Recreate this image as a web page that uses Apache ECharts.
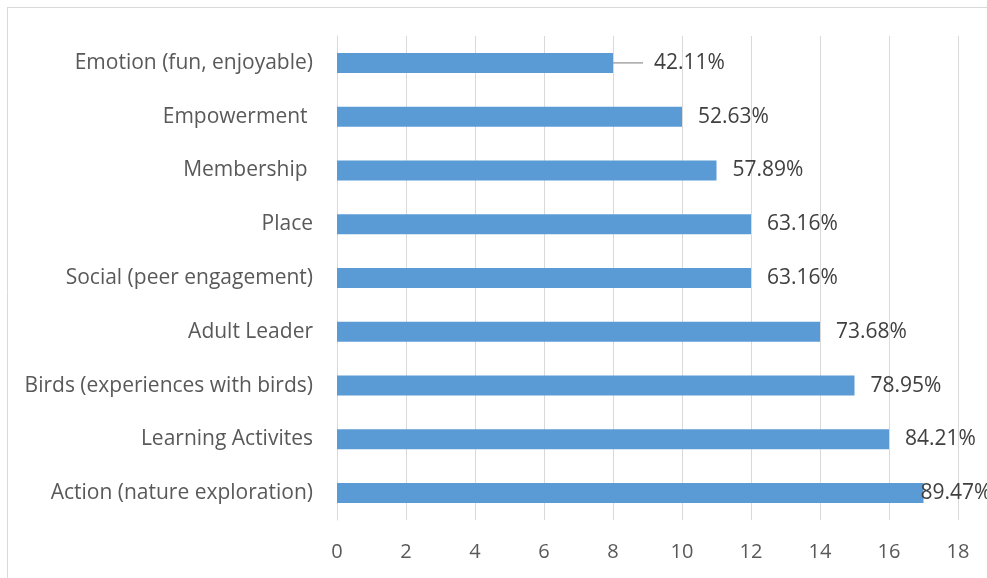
<!DOCTYPE html>
<html>
<head>
<meta charset="utf-8">
<script src="https://cdn.jsdelivr.net/npm/echarts@6/dist/echarts.min.js"></script>
<style>html,body{margin:0;padding:0;background:#fff}#c{width:987px;height:578px}</style>
</head>
<body>
<div id="c"></div>
<script>
const categories = ["Emotion (fun, enjoyable)", "Empowerment ", "Membership ", "Place", "Social (peer engagement)", "Adult Leader", "Birds (experiences with birds)", "Learning Activites", "Action (nature exploration)"];
const counts = [8, 10, 11, 12, 12, 14, 15, 16, 17];
const percentLabels = ["42.11%", "52.63%", "57.89%", "63.16%", "63.16%", "73.68%", "78.95%", "84.21%", "89.47%"];
const xTicks = [0, 2, 4, 6, 8, 10, 12, 14, 16, 18];

const FONT = "Open Sans";
const chart = echarts.init(document.getElementById('c'), null, {renderer: 'canvas'});
chart.setOption({
  animation: false,
  backgroundColor: '#fff',
  graphic: [
    {type: 'line', shape: {x1: 7.5, y1: 7, x2: 7.5, y2: 578}, style: {stroke: '#D9D9D9', lineWidth: 1}},
    {type: 'line', shape: {x1: 7, y1: 7.5, x2: 987, y2: 7.5}, style: {stroke: '#D9D9D9', lineWidth: 1}}
  ],
  grid: {left: 337, right: 29, top: 36, bottom: 58, containLabel: false},
  xAxis: {
    type: 'value', min: xTicks[0], max: xTicks[xTicks.length - 1], interval: 2,
    axisLine: {show: false}, axisTick: {show: false},
    splitLine: {show: true, lineStyle: {color: '#D9D9D9', width: 1}},
    axisLabel: {color: '#595959', fontSize: 20, fontFamily: FONT, margin: 22}
  },
  yAxis: {
    type: 'category', data: categories, inverse: true,
    axisLine: {show: true, lineStyle: {color: '#D9D9D9', width: 1}},
    axisTick: {show: false},
    axisLabel: {color: '#595959', fontSize: 21, fontFamily: FONT, margin: 24}
  },
  series: [{
    type: 'bar',
    data: counts.map((v, i) => i === 0 ? {value: v, labelLine: {show: true}} : v),
    barWidth: 20,
    itemStyle: {color: '#5B9BD5'},
    label: {
      show: true, position: 'right', distance: 16,
      color: '#404040', fontSize: 21, fontFamily: FONT,
      formatter: p => (p.dataIndex === 0 ? '  ' : '') + percentLabels[p.dataIndex]
    },
    labelLine: {show: false, lineStyle: {color: '#A6A6A6', width: 1.5}},
    labelLayout: function (p) {
      if (p.dataIndex === 0) return {dx: 14};
      if (p.dataIndex === counts.length - 1) return {dx: -19};
      return {};
    }
  }]
});
</script>
</body>
</html>
